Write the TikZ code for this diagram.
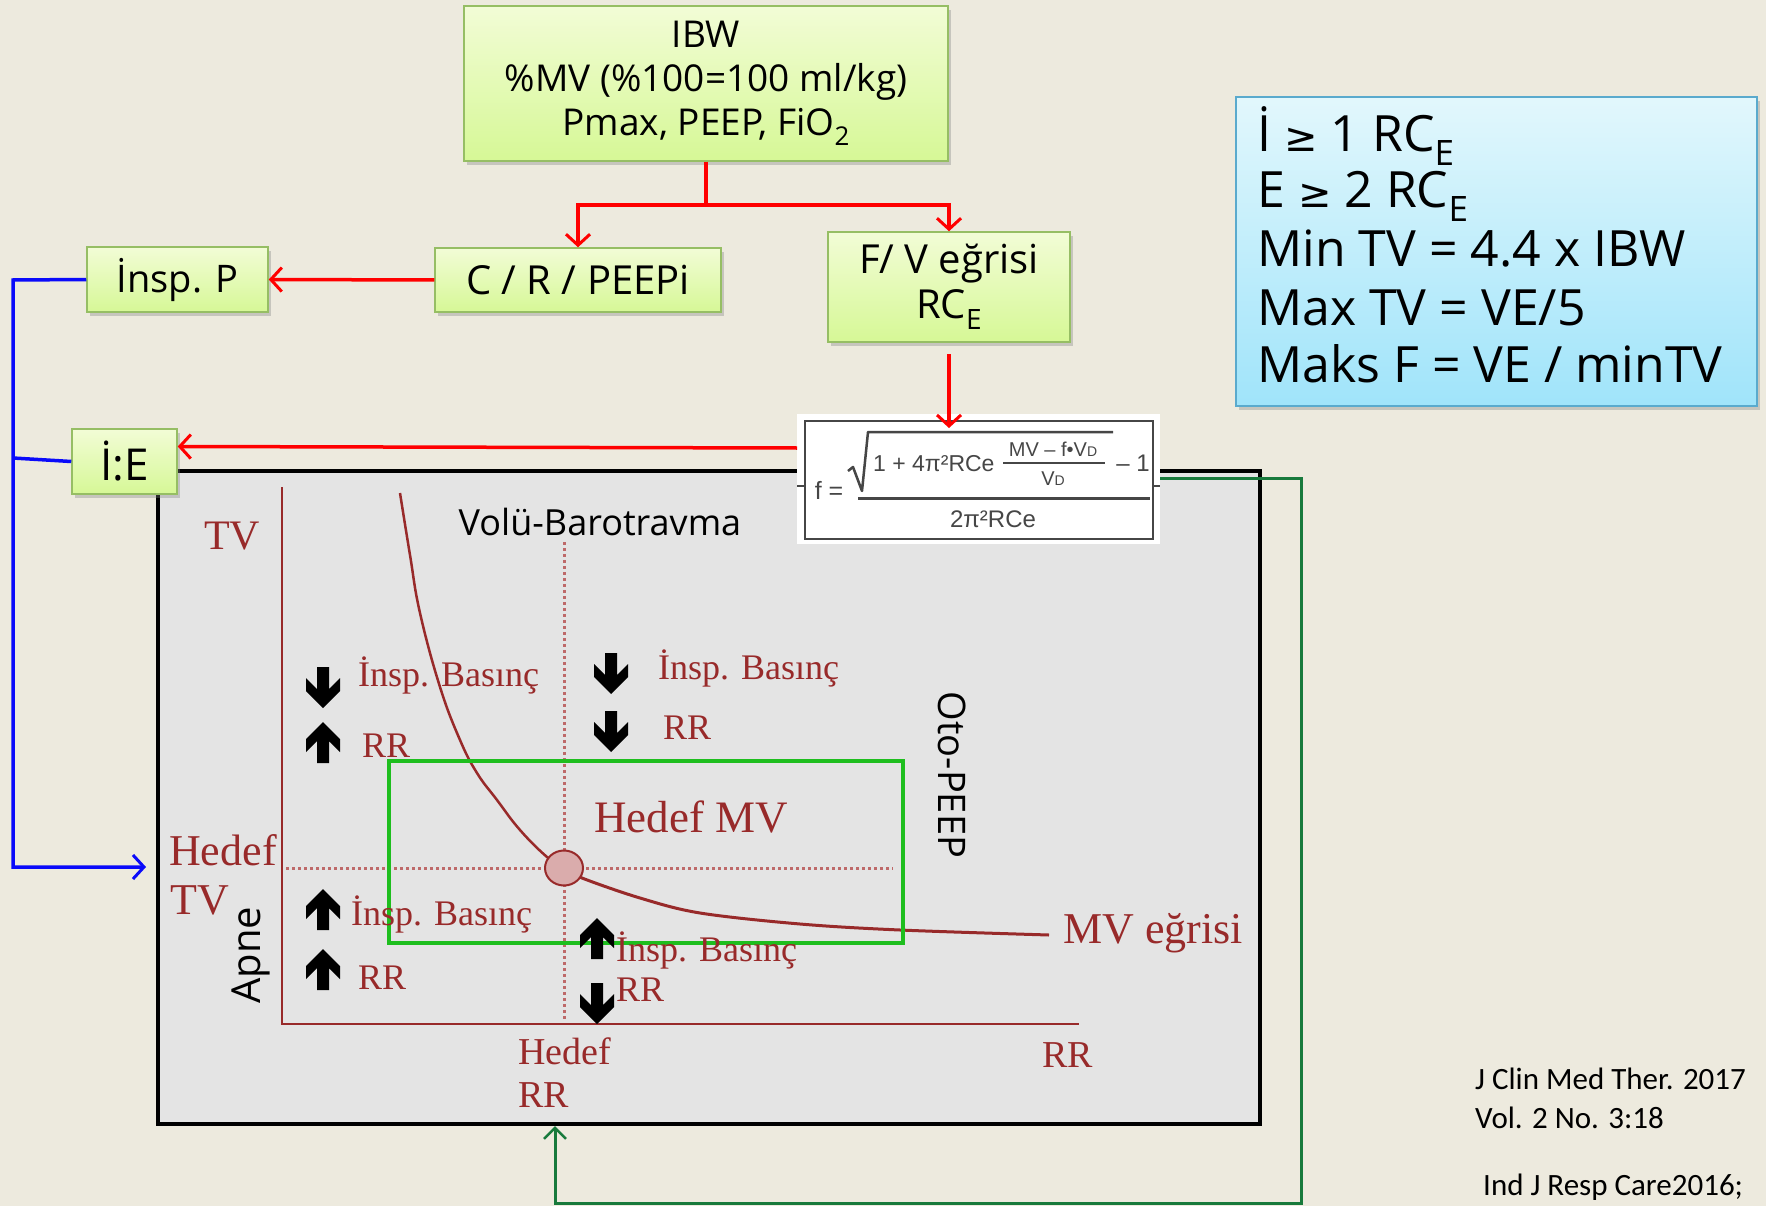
\documentclass[tikz,border=0pt]{standalone}
\usepackage{fontspec}
\setmainfont{Liberation Serif}
\setsansfont{Liberation Sans}
\newfontfamily\comic{Open Sans}
\newfontfamily\dejavu{DejaVu Sans}
\newfontfamily\cali{Carlito}
\usetikzlibrary{arrows.meta,shadows,calc,shapes.geometric}
\definecolor{bgc}{RGB}{237,234,222}
\definecolor{gtop}{RGB}{242,252,214}
\definecolor{gbot}{RGB}{214,248,150}
\definecolor{gborder}{RGB}{150,190,100}
\definecolor{btop}{RGB}{226,247,252}
\definecolor{bbot}{RGB}{160,228,250}
\definecolor{bborder}{RGB}{90,170,205}
\definecolor{gred}{RGB}{152,42,42}
\definecolor{dotred}{RGB}{190,105,105}
\definecolor{circfill}{RGB}{218,172,172}
\definecolor{graphgray}{RGB}{228,228,228}
\definecolor{dkgreen}{RGB}{24,122,60}
\definecolor{brgreen}{RGB}{30,190,30}
\definecolor{fgray}{RGB}{70,70,70}
\definecolor{bluec}{RGB}{10,10,250}
\newcommand\fsz[1]{\fontsize{#1}{#1}\selectfont}
\newcommand\sbx[1]{\raisebox{-0.28em}{\scalebox{0.7}{#1}}}
\tikzset{
  gbox/.style={draw=gborder, line width=1.5pt, top color=gtop, bottom color=gbot,
    drop shadow={shadow xshift=3pt,shadow yshift=-4pt,opacity=0.35},
    inner sep=0pt, align=center, font=\comic\fsz{36}},
  redarr/.style={draw=red, line width=3.5pt, -{Straight Barb[length=11pt,width=24pt,line width=3pt]}},
  bluearr/.style={draw=bluec, line width=3.5pt, -{Straight Barb[length=11pt,width=24pt,line width=3pt]}},
  greenarr/.style={draw=dkgreen, line width=3pt, -{Straight Barb[length=11pt,width=22pt,line width=2.5pt]}},
  glab/.style={inner sep=0pt, anchor=west, text=gred, font=\fsz{#1}},
  glab/.default=36,
  fx/.style={inner sep=0pt, text=fgray, font=\sffamily\fsz{#1}},
  fx/.default=24,
  dotln/.style={dotred, line width=3pt, dash pattern=on 3pt off 3pt},
  downblk/.pic={\fill[black] (-6,0)--(6,0)--(6,22)--(17,11)--(17,24)--(0,41)--(-17,24)--(-17,11)--(-6,22)--cycle;},
  upblk/.pic={\fill[black] (-6,41)--(6,41)--(6,19)--(17,30)--(17,17)--(0,0)--(-17,17)--(-17,30)--(-6,19)--cycle;},
}
\begin{document}
\begin{tikzpicture}[x=1pt,y=-1pt]
\useasboundingbox (0,0) rectangle (1766,1206);
\fill[bgc] (0,0) rectangle (1766,1206);

% graph frame
\node[draw, line width=4pt, fill=graphgray, minimum width=1102pt, minimum height=653pt, inner sep=0pt] (frame) at (709,797.5) {};

% axes
\draw[gred, line width=2.5pt] (282,487) -- (282,1024) -- (1079,1024);
\draw[dotln] (564,542) -- (564,1019);
\draw[dotln] (286,868) -- (893,868);
% MV curve
\draw[gred, line width=2.5pt] plot[smooth, tension=0.7] coordinates {(400,493) (410,555) (420,613) (440,687) (460,740) (477,773) (497,800) (520,830) (547,857) (563,867)};
\draw[gred, line width=3pt] plot[smooth, tension=0.55] coordinates {(564,868) (582,878) (640,898) (700,913) (800,924) (900,930) (1049,935)};
\node[draw=gred, line width=2pt, fill=circfill, ellipse, minimum width=38pt, minimum height=35pt, inner sep=0pt] (target) at (564,868) {};

% target rectangle
\draw[brgreen, line width=4pt] (389,761) rectangle (903,943);

% graph labels
\node[glab=42] (tvtop) at (204,536) {TV};
\node[inner sep=0pt, font=\comic\fsz{36}] (volu) at (600,522) {Volü-Barotravma};
\node[glab] (ib1) at (358,675) {İnsp. Basınç};
\node[glab] (rr1) at (362,746) {RR};
\node[glab] (ib2) at (658,668) {İnsp. Basınç};
\node[glab] (rr2) at (663,728) {RR};
\node[glab=45] (hmv) at (594,817) {Hedef MV};
\node[glab=44] (hedtv1) at (169,850) {Hedef};
\node[glab=44] (hedtv2) at (170,900) {TV};
\node[glab] (ib3) at (351,914) {İnsp. Basınç};
\node[glab] (rr3) at (358,978) {RR};
\node[glab] (ib4) at (616,950) {İnsp. Basınç};
\node[glab] (rr4) at (616,990) {RR};
\node[glab=44] (mve) at (1063,933) {MV eğrisi};
\node[glab=38] (hrr1) at (518,1051) {Hedef};
\node[glab=38] (hrr2) at (518,1095) {RR};
\node[glab=38] (rrx) at (1042,1055) {RR};
\node[inner sep=0pt, font=\comic\fsz{40}, rotate=90] (apne) at (251,955) {Apne};
\node[inner sep=0pt, font=\comic\fsz{38}, rotate=-90] (oto) at (952,775) {Oto-PEEP};

% black block arrows
\pic at (323,667) {downblk};
\pic at (323,722) {upblk};
\pic at (611,653) {downblk};
\pic at (611,711) {downblk};
\pic at (323,889) {upblk};
\pic at (323,949) {upblk};
\pic at (597,918) {upblk};
\pic at (597,983) {downblk};

% formula image
\node[fill=white, minimum width=363pt, minimum height=130pt, inner sep=0pt] (fml) at (978.5,479) {};
\draw[fgray, line width=2.5pt] (805,421) rectangle (1153,539);
\draw[fgray, line width=2pt] (797,486) -- (805,486) (1153,486) -- (1160,486);
\node[fx=25] (feq) at (829,490) {f =};
\node[fx=23, anchor=west] (fnum) at (873,464) {1 + 4π²RCe};
\node[fx=20] (fin1) at (1053,449) {MV – f•V{\fsz{14}D}};
\node[fx=20] (fin2) at (1053,479) {V{\fsz{14}D}};
\node[fx] (fm1) at (1133,463) {– 1};
\node[fx] (fden) at (993,519) {2π²RCe};
\draw[fgray, line width=2pt] (1003,463) -- (1105,463);
\draw[fgray, line width=2.5pt, line join=round] (848,471) -- (853,467) -- (862,491) -- (868,432) -- (1113,432);
\draw[fgray, line width=3pt] (858,498) -- (1150,498);

% green flow boxes
\node[gbox, minimum width=484pt, minimum height=155pt, font=\comic\fsz{37}] (ibw) at (706,83.5)
  {IBW\\[7pt]\%MV (\%100=100 ml/kg)\\[7pt]Pmax, PEEP, FiO\sbx{2}};
\node[gbox, minimum width=286pt, minimum height=64pt, font=\comic\fsz{40}] (crp) at (578,280) {C / R / PEEPi};
\node[gbox, minimum width=181pt, minimum height=65pt, font=\comic\fsz{38}] (insp) at (177.5,279.5) {İnsp. P};
\node[gbox, minimum width=242pt, minimum height=110pt, font=\comic\fsz{40}] (fv) at (949,287) {F/ V eğrisi\\[5pt]RC\sbx{E}};
\node[gbox, minimum width=105pt, minimum height=65pt, font=\comic\fsz{44}] (ie) at (124.5,461.5) {İ:E};

% blue info box
\node[draw=bborder, line width=1.5pt, top color=btop, bottom color=bbot,
  drop shadow={shadow xshift=3pt,shadow yshift=-4pt,opacity=0.35},
  minimum width=521pt, minimum height=309pt, inner sep=0pt] (info) at (1496.5,251.5) {};
\node[inner sep=0pt, anchor=base west, font=\comic\fsz{50}] (l1) at (1257,152) {İ {\dejavu\fsz{40}≥} 1 RC\sbx{E}};
\node[inner sep=0pt, anchor=base west, font=\comic\fsz{50}] (l2) at (1257,208) {E {\dejavu\fsz{40}≥} 2 RC\sbx{E}};
\node[inner sep=0pt, anchor=base west, font=\comic\fsz{50}] (l3) at (1257,267) {Min TV = 4.4 x IBW};
\node[inner sep=0pt, anchor=base west, font=\comic\fsz{50}] (l4) at (1257,325) {Max TV = VE/5};
\node[inner sep=0pt, anchor=base west, font=\comic\fsz{50}] (l5) at (1257,382) {Maks F = VE / minTV};

% citations
\node[inner sep=0pt, anchor=west, font=\cali\fsz{31}] (c1) at (1475,1079) {J Clin Med Ther. 2017};
\node[inner sep=0pt, anchor=west, font=\cali\fsz{31}] (c2) at (1475,1118) {Vol. 2 No. 3:18};
\node[inner sep=0pt, anchor=west, font=\cali\fsz{31}] (c3) at (1483,1187) {Ind J Resp Care2016;};

% red connectors
\coordinate (split) at (706,205);
\draw[red, line width=3.5pt] (ibw.south) -- (split);
\draw[redarr] (split) -| (crp.north);
\draw[redarr] (split) -| (fv.north);
\draw[redarr] (crp.west) -- (insp.east);
\coordinate (fvout) at (949,354);
\coordinate (fvin) at (949,428);
\draw[redarr] (fvout) -- (fvin);
\coordinate (fout) at (797,448);
\draw[redarr] (fout) -- ([yshift=15pt]ie.east);

% blue connectors
\coordinate (bluetop) at (13,280);
\coordinate (blueend) at (146,867);
\draw[bluearr] (insp.west) -- (bluetop) |- (blueend);
\draw[bluec, line width=3.5pt] (ie.west) -- (13,458);

% green feedback
\coordinate (gr1) at (1301,478);
\coordinate (gr2) at (1301,1203);
\draw[greenarr] (1160,478) -- (gr1) -- (gr2) -| (frame.south -| 555,0);
\end{tikzpicture}
\end{document}
